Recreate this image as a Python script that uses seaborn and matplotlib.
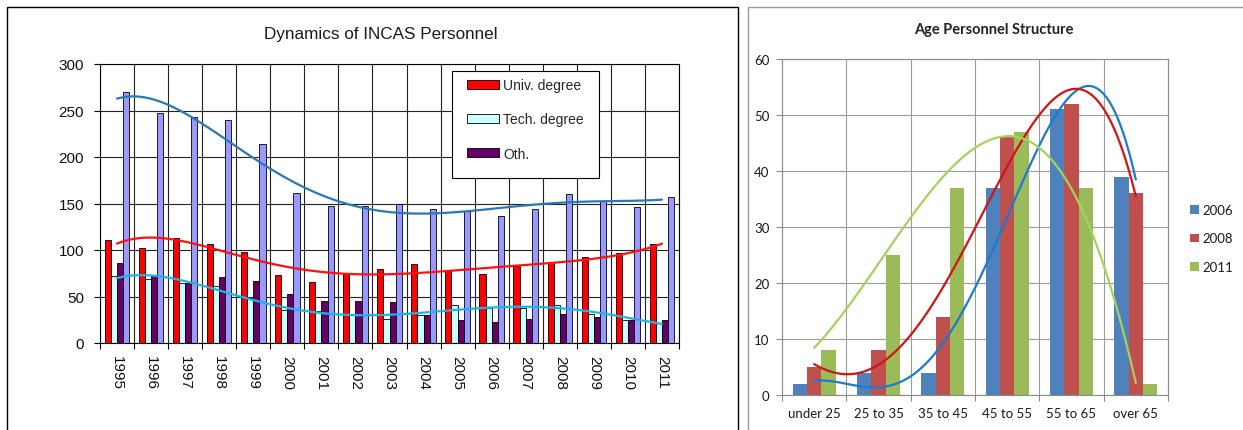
import numpy as np
import pandas as pd
import matplotlib
matplotlib.use("Agg")
import matplotlib.pyplot as plt
from matplotlib.patches import Rectangle, Patch
from matplotlib.ticker import FixedLocator
import seaborn as sns

# ---------------- data: left chart ----------------
years = ["1995", "1996", "1997", "1998", "1999", "2000", "2001", "2002", "2003",
         "2004", "2005", "2006", "2007", "2008", "2009", "2010", "2011"]
univ_degree = [111, 102, 113, 106, 98, 73, 66, 74, 80, 85, 77, 74, 83, 87, 93, 97, 106]
tech_degree = [72, 69, 64, 61, 48, 36, 34, 30, 26, 30, 41, 38, 38, 41, 31, 25, 22]
other = [86, 73, 65, 71, 67, 53, 45, 45, 44, 30, 25, 23, 26, 31, 28, 25, 25]
total = [270, 247, 243, 240, 214, 161, 147, 147, 149, 144, 142, 137, 144, 160, 153, 146, 157]
left_series = ["Univ. degree", "Tech. degree", "Oth.", "Total"]
left_legend = ["Univ. degree", "Tech. degree", "Oth."]
left_ticks = [0, 50, 100, 150, 200, 250, 300]

# ---------------- data: right chart ----------------
age_groups = ["under 25", "25 to 35", "35 to 45", "45 to 55", "55 to 65", "over 65"]
age_years = ["2006", "2008", "2011"]
age_2006 = [2, 4, 4, 37, 51, 39]
age_2008 = [5, 8, 14, 46, 52, 36]
age_2011 = [8, 25, 37, 47, 37, 2]
right_ticks = [0, 10, 20, 30, 40, 50, 60]

sns.set_theme(style="white")
plt.rcParams["font.family"] = ["Liberation Sans", "DejaVu Sans"]

W, H = 1243, 431
fig = plt.figure(figsize=(W / 100, H / 100), dpi=100)
fig.patch.set_facecolor("white")


def px_axes(l, t, r, b):
    return fig.add_axes([l / W, 1 - b / H, (r - l) / W, (b - t) / H])


# outer frames
fig.add_artist(Rectangle((7 / W, -0.05), (738 - 7) / W, 1.05 - 8 / H,
                         transform=fig.transFigure, fill=False,
                         edgecolor="black", lw=1.0))
fig.add_artist(Rectangle((747.5 / W, -0.05), 0.5, 1.05 - 8 / H,
                         transform=fig.transFigure, fill=False,
                         edgecolor="#9a9a9a", lw=1.0))

# ================= LEFT CHART =================
ax1 = px_axes(100, 65, 679, 344)
n_left = len(years)
left_df = pd.DataFrame({
    "year": years * len(left_series),
    "series": np.repeat(left_series, n_left),
    "value": univ_degree + tech_degree + other + total,
})
left_colors = ["#FF0000", "#CCFFFF", "#660066", "#9999FF"]
sns.barplot(data=left_df, x="year", y="value", hue="series",
            hue_order=left_series, order=years, palette=left_colors,
            saturation=1, width=0.72, edgecolor="black", linewidth=0.6,
            errorbar=None, legend=False, ax=ax1)

pos_left = np.arange(n_left, dtype=float)
for vals, col, order in [(total, "#2A78B5", 5), (univ_degree, "#FF1010", 6),
                         (tech_degree, "#1CB4E6", 5)]:
    sns.regplot(x=pos_left, y=np.array(vals, dtype=float), order=order,
                ci=None, scatter=False, truncate=True,
                line_kws=dict(color=col, lw=1.6, zorder=4), ax=ax1)

ax1.set_xlim(-0.5, n_left - 0.5)
ax1.set_ylim(0, 300)
ax1.yaxis.set_major_locator(FixedLocator(left_ticks))
ax1.xaxis.set_minor_locator(FixedLocator(np.arange(-0.5, n_left, 1.0)))
ax1.set_xlabel("")
ax1.set_ylabel("")
ax1.set_axisbelow(True)
ax1.grid(False)
ax1.yaxis.grid(True, which="major", color="#222222", lw=0.8)
ax1.xaxis.grid(True, which="minor", color="#222222", lw=0.8)
ax1.tick_params(axis="y", which="major", left=True, length=4.5, width=0.8,
                color="black", direction="out", pad=7, labelsize=11,
                labelcolor="#111111")
ax1.tick_params(axis="x", which="major", bottom=True, length=0, pad=8.5,
                labelsize=11, labelrotation=270, labelcolor="#111111")
ax1.tick_params(axis="x", which="minor", bottom=True, length=4, width=0.8,
                color="black", direction="out")
for s in ax1.spines.values():
    s.set_color("black")
    s.set_linewidth(0.8)

# legend box
ax1.add_patch(Rectangle(((452 - 100) / 579, (344 - 179) / 279),
                        (599 - 452) / 579, (179 - 72) / 279,
                        transform=ax1.transAxes, facecolor="white",
                        edgecolor="black", lw=0.8, zorder=5, clip_on=False))
handles1 = [Patch(facecolor=c, edgecolor="black", lw=0.6)
            for c in left_colors[:len(left_legend)]]
leg1 = ax1.legend(handles1, left_legend, loc="upper left",
                  bbox_to_anchor=((466.5 - 100) / 579, (344 - 79) / 279),
                  frameon=False, fontsize=10, borderpad=0, borderaxespad=0,
                  handlelength=2.35, handleheight=0.6, handletextpad=0.28,
                  labelspacing=1.46)
leg1.set_zorder(6)

fig.text(381 / W, 1 - 35 / H, "Dynamics of INCAS Personnel", ha="center",
         va="center", fontsize=12.3, color="#1a1a1a")

# ================= RIGHT CHART =================
ax2 = px_axes(782, 60, 1168, 396)
n_right = len(age_groups)
right_df = pd.DataFrame({
    "age": age_groups * len(age_years),
    "year": np.repeat(age_years, n_right),
    "count": age_2006 + age_2008 + age_2011,
})
right_colors = ["#4F81BD", "#C0504D", "#9BBB59"]
sns.barplot(data=right_df, x="age", y="count", hue="year",
            hue_order=age_years, order=age_groups, palette=right_colors,
            saturation=1, width=0.67, linewidth=0, errorbar=None,
            legend=False, ax=ax2)

pos_right = np.arange(n_right, dtype=float)
for vals, col, order in [(age_2006, "#1A7BCF", 4), (age_2008, "#D01515", 4),
                         (age_2011, "#A5D15E", 3)]:
    sns.regplot(x=pos_right, y=np.array(vals, dtype=float), order=order,
                ci=None, scatter=False, truncate=True,
                line_kws=dict(color=col, lw=1.6, zorder=4), ax=ax2)

ax2.set_xlim(-0.5, n_right - 0.5)
ax2.set_ylim(0, 60)
ax2.yaxis.set_major_locator(FixedLocator(right_ticks))
ax2.xaxis.set_minor_locator(FixedLocator(np.arange(-0.5, n_right, 1.0)))
ax2.set_xlabel("")
ax2.set_ylabel("")
ax2.set_axisbelow(True)
ax2.grid(False)
ax2.yaxis.grid(True, which="major", color="#9c9c9c", lw=0.8)
ax2.xaxis.grid(True, which="minor", color="#9c9c9c", lw=0.8)
ax2.tick_params(axis="y", which="major", left=True, length=4, width=0.8,
                color="#8a8a8a", direction="out", pad=5, labelsize=9.5)
ax2.tick_params(axis="x", which="major", bottom=True, length=0, pad=9,
                labelsize=9.5)
ax2.tick_params(axis="x", which="minor", bottom=True, length=4, width=0.8,
                color="#8a8a8a", direction="out")
for lab in ax2.get_xticklabels() + ax2.get_yticklabels():
    lab.set_family(["Lato", "DejaVu Sans"])
    lab.set_color("#1a1a1a")
for s in ax2.spines.values():
    s.set_color("#8a8a8a")
    s.set_linewidth(0.8)

handles2 = [Patch(facecolor=c, edgecolor="none") for c in right_colors]
ax2.legend(handles2, age_years, loc="upper left",
           bbox_to_anchor=((1190.5 - 782) / 386, (396 - 205) / 336),
           frameon=False, borderpad=0, borderaxespad=0,
           prop={"family": ["Lato", "DejaVu Sans"], "size": 9.5},
           handlelength=0.62, handleheight=0.62, handletextpad=0.3,
           labelspacing=1.25, labelcolor="#1a1a1a")

fig.text(994 / W, 1 - 30 / H, "Age Personnel Structure", ha="center",
         va="center", fontsize=10.5, fontweight="bold",
         family=["Lato", "DejaVu Sans"], color="#222222")

fig.savefig("out.png", dpi=100)
